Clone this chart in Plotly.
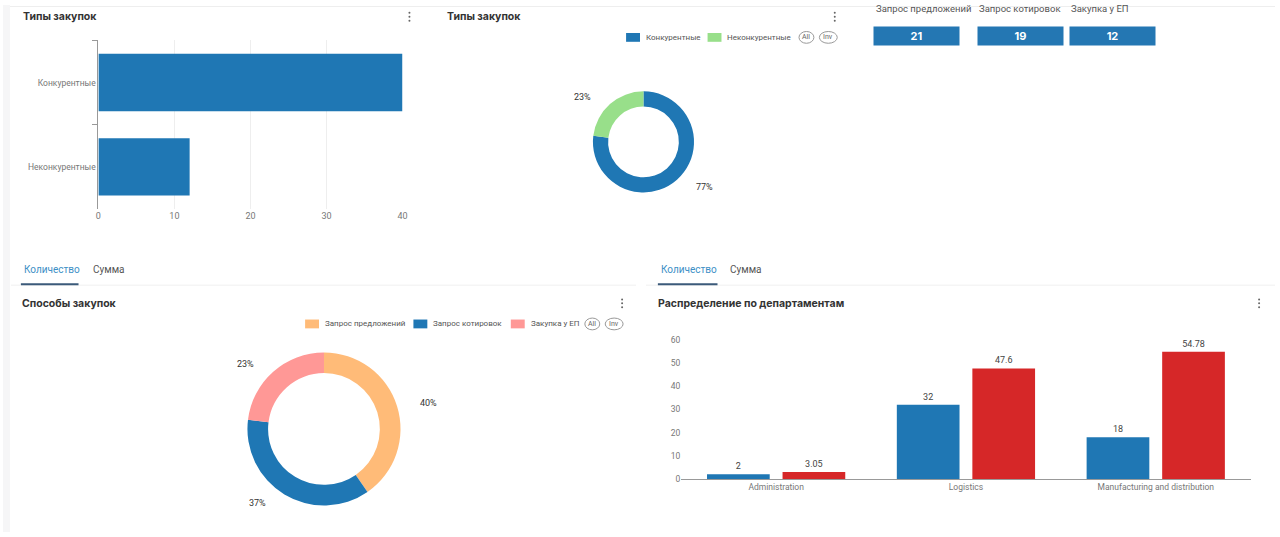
import math

import plotly.graph_objects as go

# data
type_labels = ["Конкурентные", "Неконкурентные"]
type_values = [40, 12]
type_colors = ["#1f77b4", "#98df8a"]

method_labels = ["Запрос предложений", "Запрос котировок", "Закупка у ЕП"]
method_values = [21, 19, 12]
method_colors = ["#ffbb78", "#1f77b4", "#ff9896"]

departments = ["Administration", "Logistics", "Manufacturing and distribution"]
dept_count = [2, 32, 18]
dept_sum = [3.05, 47.6, 54.78]

W, H = 1280, 537
FONT = "Roboto, Noto Sans, sans-serif"
TITLE_FONT = "Inter, Noto Sans, sans-serif"


def px(x):
    return x / W


def py(y):
    return 1 - y / H


fig = go.Figure()

# horizontal bars - types
fig.add_trace(
    go.Bar(
        x=type_values,
        y=type_labels,
        orientation="h",
        marker=dict(color=type_colors[0], line=dict(width=0)),
        width=0.68,
        xaxis="x",
        yaxis="y",
        showlegend=False,
        hoverinfo="x+y",
    )
)

# departments grouped bars
fig.add_trace(
    go.Bar(
        x=departments,
        y=dept_count,
        marker=dict(color="#1f77b4", line=dict(width=0)),
        text=dept_count,
        textposition="outside",
        textfont=dict(size=9, color="#444", family=FONT),
        cliponaxis=False,
        xaxis="x2",
        yaxis="y2",
        showlegend=False,
    )
)
fig.add_trace(
    go.Bar(
        x=departments,
        y=dept_sum,
        marker=dict(color="#d62728", line=dict(width=0)),
        text=dept_sum,
        textposition="outside",
        textfont=dict(size=9, color="#444", family=FONT),
        cliponaxis=False,
        xaxis="x2",
        yaxis="y2",
        showlegend=False,
    )
)


# donuts
def donut(values, labels, colors, cx, cy, r, hole):
    fig.add_trace(
        go.Pie(
            values=values,
            labels=labels,
            hole=hole,
            sort=False,
            direction="clockwise",
            rotation=0,
            textinfo="none",
            marker=dict(colors=colors, line=dict(width=0)),
            domain=dict(x=[px(cx - r), px(cx + r)], y=[py(cy + r), py(cy - r)]),
            showlegend=False,
        )
    )
    # percent labels around the ring
    total = sum(values)
    cum = 0
    out = []
    for v in values:
        mid = (cum + v / 2) / total
        cum += v
        th = 2 * math.pi * mid
        R = r + 10
        side = 21 if math.sin(th) >= 0 else -21
        lx = cx + math.sin(th) * R + side
        ly = cy - math.cos(th) * R
        out.append(
            dict(
                x=px(lx), y=py(ly), xref="paper", yref="paper",
                text=f"{round(100 * v / total)}%", showarrow=False,
                font=dict(size=9, color="#333", family=FONT),
                xanchor="center", yanchor="middle",
            )
        )
    return out


annotations = []
annotations += donut(type_values, type_labels, type_colors, 644.5, 139.5, 51.5, 0.70)
annotations += donut(method_values, method_labels, method_colors, 323, 432, 78, 0.73)

shapes = []


def text(x, y, s, size=9, color="#333", anchor="left", family=FONT, bold=False):
    if bold:
        s = "<b>" + s + "</b>"
    annotations.append(
        dict(
            x=px(x), y=py(y), xref="paper", yref="paper", text=s,
            showarrow=False, xanchor=anchor, yanchor="middle",
            font=dict(size=size, color=color, family=family),
        )
    )


def kebab(x, y):
    for dy in (-4, 0, 4):
        shapes.append(
            dict(type="circle", xref="paper", yref="paper",
                 x0=px(x - 1), x1=px(x + 1), y0=py(y + dy + 1), y1=py(y + dy - 1),
                 fillcolor="#666", line=dict(width=0))
        )


def legend(items, y, allx):
    for (sx, tx, label, color) in items:
        shapes.append(
            dict(type="rect", xref="paper", yref="paper",
                 x0=px(sx), x1=px(sx + 14), y0=py(y + 4.5), y1=py(y - 4.5),
                 fillcolor=color, line=dict(width=0))
        )
        text(tx, y, label, size=8, color="#555")
    for cx, w, s in ((allx, 15, "All"), (allx + 22, 18, "Inv")):
        shapes.append(
            dict(type="circle", xref="paper", yref="paper",
                 x0=px(cx - w / 2), x1=px(cx + w / 2), y0=py(y + 6), y1=py(y - 6),
                 line=dict(color="#999", width=1))
        )
        text(cx, y, s, size=7, color="#666", anchor="center")


# page decoration
shapes.append(dict(type="rect", xref="paper", yref="paper", x0=0, x1=px(7), y0=0, y1=1,
                   fillcolor="#f6f6f7", line=dict(width=0), layer="below"))
shapes.append(dict(type="line", xref="paper", yref="paper", x0=px(7), x1=1, y0=py(1.5), y1=py(1.5),
                   line=dict(color="#eeeeee", width=1)))

# panel titles
text(18, 12, "Типы закупок", size=10.5, color="#333", family=TITLE_FONT, bold=True)
kebab(409, 12)
text(445, 12, "Типы закупок", size=10.5, color="#333", family=TITLE_FONT, bold=True)
kebab(837, 12)
text(17, 304, "Способы закупок", size=10.5, color="#333", family=TITLE_FONT, bold=True)
kebab(623, 304)
text(657, 304, "Распределение по департаментам", size=10.5, color="#333", family=TITLE_FONT, bold=True)
kebab(1264, 304)

# legends
legend([(627, 645, type_labels[0], type_colors[0]), (709, 727, type_labels[1], type_colors[1])], 33, 808.5)
legend([(304, 322, method_labels[0], method_colors[0]),
        (413, 431, method_labels[1], method_colors[1]),
        (511, 529, method_labels[2], method_colors[2])], 325, 593)

# tabs
for x0, x1, sep0, sep1 in ((18, 76, 8, 637), (659, 719, 647, 1280)):
    shapes.append(dict(type="line", xref="paper", yref="paper", x0=px(sep0), x1=px(sep1),
                       y0=py(285.5), y1=py(285.5), line=dict(color="#f0f0f0", width=1)))
    shapes.append(dict(type="line", xref="paper", yref="paper", x0=px(x0), x1=px(x1),
                       y0=py(284.5), y1=py(284.5), line=dict(color="#3b5a7a", width=2)))
    text(x0 + 1, 270, "Количество", size=10, color="#3d8fc6")
    text(x0 + 71, 270, "Сумма", size=10, color="#555")

# KPI boxes
for bx, label, v in zip((877, 981, 1074), method_labels, method_values):
    text(bx - 1, 4, label, size=9.5, color="#555")
    annotations.append(
        dict(
            x=px(bx + 42.5), y=py(32), xref="paper", yref="paper",
            text=f"<b>{v}</b>", showarrow=False, xanchor="center", yanchor="middle",
            width=85, height=18, borderpad=0, bgcolor="#2477b3",
            font=dict(size=11, color="white", family=TITLE_FONT),
        )
    )

fig.update_layout(
    width=W,
    height=H,
    margin=dict(l=0, r=0, t=0, b=0),
    paper_bgcolor="white",
    plot_bgcolor="white",
    barmode="group",
    bargap=0.204,
    bargroupgap=0.17,
    font=dict(family=FONT, size=9, color="#777"),
    shapes=shapes,
    annotations=annotations,
    xaxis=dict(
        domain=[px(96), px(402)],
        range=[0, 40],
        tickvals=[0, 10, 20, 30, 40],
        showgrid=True,
        gridcolor="#eeeeee",
        zeroline=False,
        showline=False,
        ticks="",
        tickfont=dict(size=9, color="#777"),
        anchor="y",
        fixedrange=True,
    ),
    yaxis=dict(
        domain=[py(208), py(36)],
        categoryorder="array",
        categoryarray=type_labels[::-1],
        showline=True,
        linecolor="#999",
        linewidth=1,
        ticks="outside",
        tickson="boundaries",
        ticklen=5,
        tickcolor="#999",
        showgrid=False,
        tickfont=dict(size=8.5, color="#777"),
        anchor="x",
        fixedrange=True,
    ),
    xaxis2=dict(
        domain=[px(682.5), px(1255.5)],
        showline=True,
        linecolor="#999",
        linewidth=1,
        ticks="",
        showgrid=False,
        tickfont=dict(size=8.5, color="#777"),
        anchor="y2",
        fixedrange=True,
    ),
    yaxis2=dict(
        domain=[py(483), py(341)],
        range=[0, 60],
        dtick=10,
        showgrid=False,
        zeroline=False,
        showline=False,
        tickfont=dict(size=8.5, color="#777"),
        anchor="x2",
        fixedrange=True,
    ),
)

fig.write_html(
    "out.html",
    config=dict(displayModeBar=False),
    post_script="document.body.style.margin='0';document.body.style.overflow='hidden';",
)
